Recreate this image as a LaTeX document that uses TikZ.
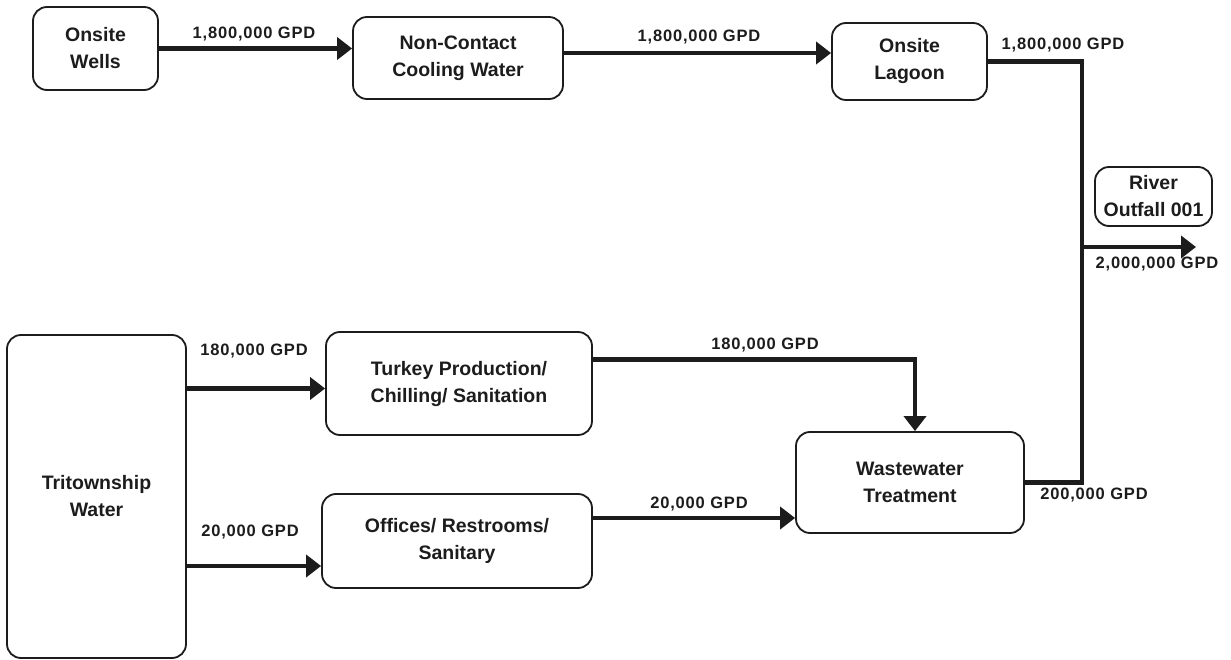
\documentclass[tikz,border=0pt]{standalone}
\usepackage{fontspec}
\setmainfont{Liberation Sans}
\usepackage{xcolor}
\usetikzlibrary{arrows.meta}

\definecolor{ink}{HTML}{1C1C1C}
\newcommand{\boxfont}{\fontsize{19.5}{27}\selectfont\bfseries}
\newcommand{\gpdfont}{\fontsize{16.5}{20}\selectfont\bfseries\addfontfeature{LetterSpace=5}}

\tikzset{
  unit/.style={draw=ink, text=ink, line width=1.8pt, rounded corners=14pt,
    align=center, inner sep=0pt, font=\boxfont},
  gpd/.style={text=ink, inner sep=0pt, font=\gpdfont},
  pipe/.style={draw=ink, line width=4.8pt},
  flow/.style={pipe, -{Triangle[length=15pt,width=22pt]}}
}

\begin{document}
\begin{tikzpicture}[x=1pt, y=-1pt]
    \useasboundingbox (0, 0) rectangle (1231, 660);

    % Draw units
    \node[unit, minimum width=125, minimum height=83] (wells) at (95.5, 48.5) {Onsite\\Wells};
    \node[unit, minimum width=210, minimum height=82] (cooling) at (458, 58) {Non-Contact\\Cooling Water};
    \node[unit, minimum width=155, minimum height=77] (lagoon) at (909.5, 61.5) {Onsite\\Lagoon};
    \node[unit, minimum width=117, minimum height=59] (river) at (1153.5, 196.5) {River\\Outfall 001};
    \node[unit, minimum width=179, minimum height=323] (tri) at (96.5, 496.5) {Tritownship\\Water};
    \node[unit, minimum width=266, minimum height=103] (turkey) at (459, 383.5) {Turkey Production/\\Chilling/ Sanitation};
    \node[unit, minimum width=270, minimum height=94] (offices) at (457, 541) {Offices/ Restrooms/\\Sanitary};
    \node[unit, minimum width=228, minimum height=101] (wwt) at (910, 482.5) {Wastewater\\Treatment};

    % Draw flows
    \coordinate (split) at (1082, 247);
    \coordinate (outlet) at (1196, 247);
    \draw[flow] (wells.east) -- (wells.east -| cooling.west);
    \draw[flow] ([yshift=5pt]cooling.east) -- ([yshift=5pt]cooling.east -| lagoon.west);
    \draw[pipe] (lagoon.east) -| (split);
    \draw[pipe] (wwt.east) -| (split);
    \draw[flow] (split) -- (outlet);
    \draw[flow] ([yshift=-5pt]turkey.west -| tri.east) -- ([yshift=-5pt]turkey.west);
    \draw[flow] ([yshift=-25pt]offices.west -| tri.east) -- ([yshift=-25pt]offices.west);
    \draw[flow] ([yshift=24pt]turkey.east) -| ([xshift=5pt]wwt.north);
    \draw[flow] ([yshift=23pt]offices.east) -- ([yshift=23pt]offices.east -| wwt.west);

    % Draw flow rates
    \node[gpd] (q-wells) at (254, 34) {1,800,000 GPD};
    \node[gpd] (q-cooling) at (699, 37) {1,800,000 GPD};
    \node[gpd] (q-lagoon) at (1063, 45) {1,800,000 GPD};
    \node[gpd] (q-river) at (1157, 264) {2,000,000 GPD};
    \node[gpd] (q-turkey-in) at (254, 351) {180,000 GPD};
    \node[gpd] (q-offices-in) at (250, 532) {20,000 GPD};
    \node[gpd] (q-turkey-out) at (765, 345) {180,000 GPD};
    \node[gpd] (q-offices-out) at (699, 504) {20,000 GPD};
    \node[gpd] (q-wwt) at (1094, 495) {200,000 GPD};
\end{tikzpicture}
\end{document}
